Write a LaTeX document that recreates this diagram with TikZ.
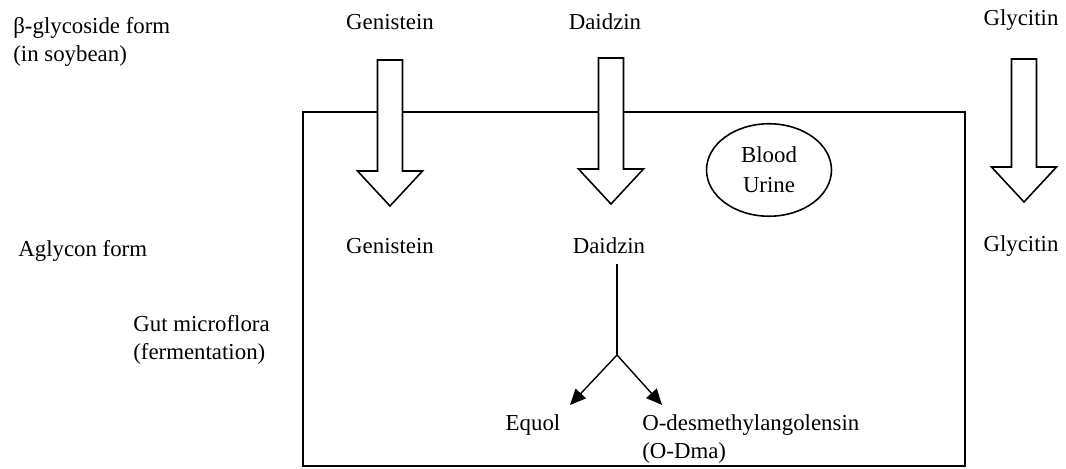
\documentclass[tikz,border=0pt]{standalone}
\usepackage{fontspec}
\setmainfont{Liberation Serif}
\usetikzlibrary{arrows.meta, positioning, shapes.geometric}

\begin{document}
\begin{tikzpicture}[
  x=0.02cm, y=-0.02cm,
  lbl/.style    = {font=\fontsize{13}{16}\selectfont, inner sep=0pt, align=left},
  organ/.style  = {draw, ellipse, line width=0.9pt, minimum width=2.5cm, minimum height=1.85cm,
                   align=center, inner sep=0pt, font=\fontsize{13}{17}\selectfont},
  thin/.style   = {line width=0.8pt},
  arr/.style    = {-{Triangle[length=9pt, width=8pt]}, line width=0.8pt},
  pics/blockarr/.style args = {#1/#2}{code={
    \draw[fill=white, line width=0.9pt] (-12.5,0) -- (-12.5,#1) -- (-32.5,#1) -- (0,#2)
      -- (32.5,#1) -- (12.5,#1) -- (12.5,0) -- cycle;
  }}
]
\useasboundingbox (0,0) rectangle (1066,469);

% gut box
\draw[line width=1.1pt] (303,112) rectangle (965,466);

% row labels
\node[lbl, anchor=west] (glyform) at (13,42) {β-glycoside form\\(in soybean)};
\node[lbl, anchor=west] (aglform) at (18,251) {Aglycon form};
\node[lbl, anchor=west] (gutflora) at (133,340) {Gut microflora\\(fermentation)};

% soybean glycosides
\node[lbl] (gen1) at (390,22) {Genistein};
\node[lbl] (dai1) at (605,22) {Daidzin};
\node[lbl] (gly1) at (1021,20) {Glycitin};

% hydrolysis
\pic at (390,60) {blockarr={111/146}};
\pic at (611,58) {blockarr={111/146}};
\pic at (1024,59) {blockarr={108/143}};

% aglycones
\node[lbl] (gen2) at (390,246) {Genistein};
\node[lbl] (dai2) at (609,246) {Daidzin};
\node[lbl] (gly2) at (1021,246) {Glycitin};

\node[organ] (blood) at (769,170) {Blood\\Urine};

% metabolites
\coordinate (split) at (617,355);
\coordinate (eqtip) at (570,405);
\coordinate (odtip) at (662,405);
\node[lbl] (equol) at (533,425) {Equol};
\node[lbl, anchor=north west] (odma) at (642,414) {O-desmethylangolensin\\(O-Dma)};

\draw[thin] (dai2.south -| split) ++(0,10) -- (split);
\draw[arr] (split) -- (eqtip);
\draw[arr] (split) -- (odtip);
\end{tikzpicture}
\end{document}
